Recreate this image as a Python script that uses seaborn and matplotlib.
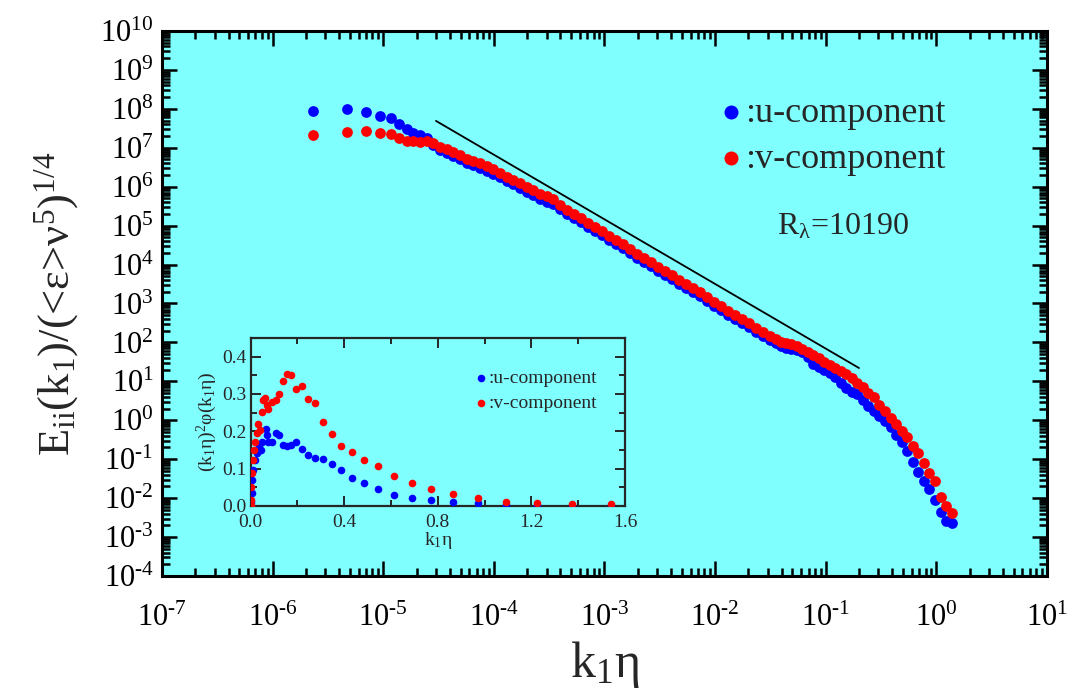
import numpy as np
import pandas as pd
import matplotlib
matplotlib.use('Agg')
import matplotlib.pyplot as plt
import matplotlib.ticker as mticker
import seaborn as sns

# --- data (log10 values on the main plot) ---
log_k = [-5.635, -5.327, -5.155, -5.029, -4.929, -4.857, -4.785, -4.730, -4.667, -4.604,
         -4.550, -4.486, -4.423, -4.369, -4.305, -4.242, -4.188, -4.125, -4.061, -4.007,
         -3.944, -3.881, -3.826, -3.763, -3.700, -3.645, -3.582, -3.519, -3.465, -3.401,
         -3.338, -3.275, -3.211, -3.148, -3.085, -3.022, -2.958, -2.895, -2.832, -2.768,
         -2.705, -2.642, -2.578, -2.515, -2.452, -2.389, -2.325, -2.262, -2.199, -2.135,
         -2.072, -2.009, -1.946, -1.882, -1.819, -1.756, -1.692, -1.629, -1.566, -1.502,
         -1.448, -1.403, -1.358, -1.313, -1.258, -1.213, -1.159, -1.114, -1.059, -1.014,
         -0.960, -0.915, -0.860, -0.815, -0.761, -0.716, -0.662, -0.616, -0.562, -0.517,
         -0.463, -0.408, -0.363, -0.309, -0.264, -0.209, -0.164, -0.110, -0.065, -0.011,
         0.044, 0.089, 0.143]

log_E_u = [7.945, 7.996, 7.919, 7.817, 7.765, 7.611, 7.483, 7.380, 7.329, 7.252,
           7.072, 6.943, 6.866, 6.789, 6.712, 6.609, 6.558, 6.481, 6.404, 6.327,
           6.250, 6.147, 6.070, 5.967, 5.864, 5.787, 5.685, 5.608, 5.556, 5.428,
           5.299, 5.197, 5.094, 4.965, 4.863, 4.760, 4.631, 4.529, 4.426, 4.297,
           4.169, 4.066, 3.964, 3.835, 3.732, 3.630, 3.501, 3.398, 3.296, 3.193,
           3.065, 2.936, 2.833, 2.705, 2.602, 2.499, 2.397, 2.268, 2.165, 2.063,
           1.986, 1.909, 1.857, 1.832, 1.806, 1.754, 1.626, 1.446, 1.369, 1.292,
           1.215, 1.112, 0.958, 0.830, 0.727, 0.676, 0.522, 0.367, 0.239, 0.111,
           -0.018, -0.172, -0.378, -0.557, -0.789, -1.071, -1.328, -1.559, -1.765, -2.047,
           -2.355, -2.587, -2.638]

log_E_v = [7.329, 7.406, 7.431, 7.380, 7.354, 7.252, 7.174, 7.174, 7.149, 7.174,
           7.123, 7.020, 6.969, 6.892, 6.815, 6.712, 6.661, 6.609, 6.532, 6.455,
           6.352, 6.250, 6.173, 6.096, 5.993, 5.916, 5.813, 5.762, 5.685, 5.530,
           5.402, 5.299, 5.197, 5.068, 4.965, 4.863, 4.734, 4.631, 4.529, 4.400,
           4.272, 4.169, 4.066, 3.938, 3.835, 3.732, 3.604, 3.501, 3.398, 3.296,
           3.167, 3.039, 2.936, 2.808, 2.705, 2.602, 2.499, 2.371, 2.268, 2.165,
           2.088, 2.011, 1.986, 1.960, 1.909, 1.832, 1.754, 1.677, 1.600, 1.498,
           1.421, 1.343, 1.266, 1.189, 1.087, 0.958, 0.855, 0.701, 0.599, 0.393,
           0.239, 0.059, -0.095, -0.275, -0.429, -0.660, -0.840, -1.097, -1.354, -1.559,
           -1.970, -2.201, -2.381]

# -5/3 reference line end points
slope_k = [3.0e-5, 0.2]
slope_E = [4.9e7, 22.0]

# inset: compensated spectra (linear axes)
ins_k_u = [1.539, 1.372, 1.222, 1.091, 0.970, 0.866, 0.771, 0.688, 0.613, 0.546,
           0.486, 0.435, 0.386, 0.346, 0.308, 0.274, 0.245, 0.218, 0.194, 0.172,
           0.154, 0.137, 0.123, 0.108, 0.091, 0.076, 0.066, 0.071, 0.048, 0.043,
           0.034, 0.026, 0.019, 0.011, 0.007, 0.004, 0.0014, 0.0005]
ins_y_u = [0.001, 0.001, 0.003, 0.003, 0.007, 0.011, 0.016, 0.021, 0.029, 0.045,
           0.061, 0.076, 0.096, 0.1125, 0.126, 0.128, 0.137, 0.152, 0.171, 0.163,
           0.162, 0.163, 0.190, 0.195, 0.172, 0.172, 0.205, 0.190, 0.172, 0.150,
           0.159, 0.141, 0.123, 0.096, 0.070, 0.034, 0.012, 0.001]
ins_k_v = [1.539, 1.372, 1.222, 1.091, 0.970, 0.866, 0.771, 0.688, 0.613, 0.546,
           0.486, 0.435, 0.386, 0.346, 0.308, 0.274, 0.245, 0.218, 0.194, 0.172,
           0.154, 0.137, 0.123, 0.108, 0.091, 0.076, 0.061, 0.054, 0.068, 0.048,
           0.033, 0.040, 0.026, 0.019, 0.014, 0.0085, 0.0057, 0.003, 0.0014, 0.0005]
ins_y_v = [0.005, 0.005, 0.009, 0.012, 0.022, 0.032, 0.045, 0.0625, 0.079, 0.107,
           0.123, 0.144, 0.161, 0.192, 0.224, 0.277, 0.2875, 0.321, 0.314, 0.351,
           0.354, 0.336, 0.300, 0.283, 0.279, 0.260, 0.290, 0.284, 0.270, 0.251,
           0.220, 0.204, 0.195, 0.172, 0.150, 0.123, 0.0875, 0.052, 0.016, 0.003]

# --- style ---
sns.set_style('ticks')
plt.rcParams['font.family'] = ['Liberation Serif', 'DejaVu Serif']
plt.rcParams['mathtext.fontset'] = 'custom'
plt.rcParams['mathtext.rm'] = 'Liberation Serif'
plt.rcParams['mathtext.it'] = 'Liberation Serif:italic'
plt.rcParams['mathtext.bf'] = 'Liberation Serif:bold'

BG = '#80ffff'
BLUE = '#0000ff'
RED = '#ff0000'

df = pd.DataFrame({'k': np.power(10.0, log_k),
                   'u': np.power(10.0, log_E_u),
                   'v': np.power(10.0, log_E_v)})


def pow_label(e):
    # short hyphen in the exponent, as in the original figure
    s = str(e).replace('-', '\u2010')
    return '10$^{%s}$' % s


fig = plt.figure(figsize=(10.79, 6.96), dpi=100)
ax = fig.add_axes([0.1501, 0.1724, 0.8202, 0.7831])
ax.set_facecolor(BG)
ax.set_xscale('log')
ax.set_yscale('log')

sns.scatterplot(data=df, x='k', y='u', ax=ax, color=BLUE, s=60, linewidth=0,
                label=':u-component', zorder=3)
sns.scatterplot(data=df, x='k', y='v', ax=ax, color=RED, s=60, linewidth=0,
                label=':v-component', zorder=4)
ax.plot(slope_k, slope_E, color='black', lw=1.3, zorder=2)

ax.set_xlim(1e-7, 1e1)
ax.set_ylim(1e-4, 1e10)

xdec = list(range(-7, 2))
ydec = list(range(-4, 11))
ax.xaxis.set_major_locator(mticker.FixedLocator([10.0 ** e for e in xdec]))
ax.yaxis.set_major_locator(mticker.FixedLocator([10.0 ** e for e in ydec]))
ax.xaxis.set_major_formatter(mticker.FixedFormatter([pow_label(e) for e in xdec]))
ax.yaxis.set_major_formatter(mticker.FixedFormatter([pow_label(e) for e in ydec]))
for a in (ax.xaxis, ax.yaxis):
    a.set_minor_locator(mticker.LogLocator(base=10, subs=np.arange(2, 10), numticks=200))
    a.set_minor_formatter(mticker.NullFormatter())

ax.tick_params(which='both', direction='in', top=True, right=True, width=1.8, colors='black')
ax.tick_params(which='major', length=11, labelsize=22)
ax.tick_params(which='minor', length=6)
ax.tick_params(axis='x', which='major', pad=20)
ax.tick_params(axis='y', which='major', pad=6)
for sp in ax.spines.values():
    sp.set_linewidth(2.2)
    sp.set_color('black')

ax.set_xlabel('k$_1$η', fontsize=36, labelpad=4)
ax.set_ylabel('E$_{\\mathrm{ii}}$(k$_1$)/(<ε>ν$^5$)$^{1/4}$', fontsize=32, labelpad=14)

leg = ax.legend(loc='center left', bbox_to_anchor=(0.628, 0.807), frameon=False,
                fontsize=26, handletextpad=0.0, handlelength=0.75, labelspacing=0.35,
                borderpad=0, borderaxespad=0, markerscale=1.3)
ax.text(0.695, 0.64, 'R$_{\\mathrm{λ}}$=10190', transform=ax.transAxes, fontsize=23,
        ha='left', va='center')

# --- inset ---
ins = fig.add_axes([0.2323, 0.273, 0.3469, 0.2414])
ins.set_facecolor(BG)
sns.scatterplot(x=ins_k_u, y=ins_y_u, ax=ins, color=BLUE, s=30, linewidth=0,
                label=':u-component', zorder=3)
sns.scatterplot(x=ins_k_v, y=ins_y_v, ax=ins, color=RED, s=30, linewidth=0,
                label=':v-component', zorder=4)
ins.set_xlim(0, 1.6)
ins.set_ylim(0, 0.45)
ins.xaxis.set_major_locator(mticker.MultipleLocator(0.4))
ins.xaxis.set_minor_locator(mticker.MultipleLocator(0.2))
ins.yaxis.set_major_locator(mticker.MultipleLocator(0.1))
ins.yaxis.set_minor_locator(mticker.MultipleLocator(0.05))
ins.xaxis.set_major_formatter(mticker.FormatStrFormatter('%.1f'))
ins.yaxis.set_major_formatter(mticker.FormatStrFormatter('%.1f'))
ins.tick_params(which='both', direction='in', top=True, right=True, width=1.4)
ins.tick_params(which='major', length=7, labelsize=14)
ins.tick_params(axis='x', which='major', pad=6)
ins.tick_params(axis='y', which='major', pad=3)
ins.tick_params(which='minor', length=4)
for sp in ins.spines.values():
    sp.set_linewidth(1.6)
ins.set_xlabel('k$_1$η', fontsize=14, labelpad=-1)
ins.set_ylabel('(k$_1$η)$^2$φ(k$_1$η)', fontsize=14, labelpad=2)
ins.legend(loc='center left', bbox_to_anchor=(0.595, 0.685), frameon=False,
           fontsize=14, handletextpad=0.0, handlelength=0.8, labelspacing=0.35,
           borderpad=0, borderaxespad=0)

fig.savefig('out.png', dpi=100, facecolor='white')
